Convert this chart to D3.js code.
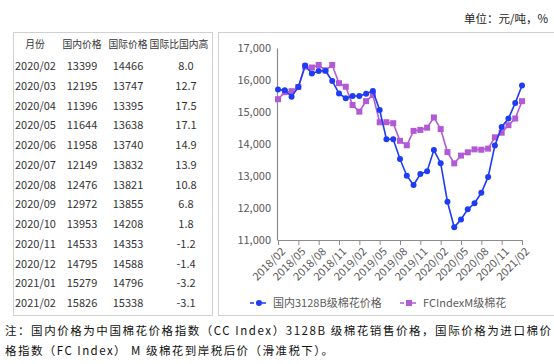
<!DOCTYPE html>
<html><head><meta charset="utf-8">
<script src="https://cdn.jsdelivr.net/npm/d3@7"></script>
<style>
html,body{margin:0;padding:0;background:#fff;}
svg{display:block;}
</style></head>
<body><svg id="c" width="554" height="364"></svg>
<script>
const months = ["2018/02","2018/03","2018/04","2018/05","2018/06","2018/07","2018/08","2018/09","2018/10","2018/11","2018/12","2019/01",
"2019/02","2019/03","2019/04","2019/05","2019/06","2019/07","2019/08","2019/09","2019/10","2019/11","2019/12","2020/01",
"2020/02","2020/03","2020/04","2020/05","2020/06","2020/07","2020/08","2020/09","2020/10","2020/11","2020/12","2021/01","2021/02"];
const domestic = [15700,15680,15480,15780,16450,16200,16280,16290,15970,15580,15430,15500,
15500,15570,15660,15060,14150,14150,13530,13010,12720,13060,13150,13810,
13399,12195,11396,11644,11958,12149,12476,12972,13953,14533,14795,15279,15826];
const international = [15400,15620,15650,15780,16420,16390,16470,16300,16470,15900,15790,15220,
15010,15340,15530,14680,14680,14650,14100,13960,14410,14440,14510,14830,
14466,13747,13395,13638,13740,13832,13821,13855,14208,14353,14588,14796,15338];
const yTicks = [11000,12000,13000,14000,15000,16000,17000];
const xTickLabels = ["2018/02","2018/05","2018/08","2018/11","2019/02","2019/05","2019/08","2019/11","2020/02","2020/05","2020/08","2020/11","2021/02"];
const tableHeader = ["月份","国内价格","国际价格","国际比国内高"];
const tableMonths = ["2020/02","2020/03","2020/04","2020/05","2020/06","2020/07","2020/08","2020/09","2020/10","2020/11","2020/12","2021/01","2021/02"];
const tableDomestic = [13399,12195,11396,11644,11958,12149,12476,12972,13953,14533,14795,15279,15826];
const tableIntl = [14466,13747,13395,13638,13740,13832,13821,13855,14208,14353,14588,14796,15338];
const tableRatio = ["8.0","12.7","17.5","17.1","14.9","13.9","10.8","6.8","1.8","-1.2","-1.4","-3.2","-3.1"];
const seriesNames = ["国内3128B级棉花价格","FCIndexM级棉花"];
const unitText = "单位：元/吨，%";
const note1 = "注：国内价格为中国棉花价格指数（CC Index）3128B 级棉花销售价格，国际价格为进口棉价";
const note2 = "格指数（FC Index） M 级棉花到岸税后价（滑准税下）。";

const svg = d3.select("#c");
const sans = "'Noto Sans CJK SC','Noto Sans',sans-serif";
const blue = "#1f3cf5", purple = "#b25ad6";

// unit
svg.append("text").attr("x",548).attr("y",23).attr("text-anchor","end")
  .attr("font-family",sans).attr("font-size",11.5).attr("fill","#222").text(unitText);

// panels
svg.append("rect").attr("x",13.5).attr("y",32.5).attr("width",199).attr("height",283)
  .attr("fill","none").attr("stroke","#d0d0d0");
svg.append("rect").attr("x",218.5).attr("y",32.5).attr("width",345).attr("height",283)
  .attr("fill","none").attr("stroke","#d0d0d0");

// table
const colX = [35,82,128,179];
const hdr = svg.append("g").attr("font-family",sans).attr("font-size",9.8).attr("fill","#333");
tableHeader.forEach((h,i)=>hdr.append("text").attr("x",colX[i]).attr("y",48).attr("text-anchor","middle").text(h));
const rowY = d3.scaleLinear().domain([0,12]).range([70,307]);
const tb = svg.append("g").attr("font-family",sans).attr("font-size",11).attr("fill","#333");
tableMonths.forEach((m,i)=>{
  const yy = rowY(i);
  tb.append("text").attr("x",15).attr("y",yy).text(m);
  tb.append("text").attr("x",82).attr("y",yy).attr("text-anchor","middle").text(tableDomestic[i]);
  tb.append("text").attr("x",128).attr("y",yy).attr("text-anchor","middle").text(tableIntl[i]);
  tb.append("text").attr("x",186).attr("y",yy).attr("text-anchor","middle").text(tableRatio[i]);
});

// chart
const x = d3.scaleLinear().domain([0, months.length-1]).range([278,522]);
const y = d3.scaleLinear().domain([11000,17000]).range([240,48]);

const yAxis = svg.append("g").attr("transform","translate(277,0)")
  .call(d3.axisLeft(y).tickValues(yTicks).tickSize(0).tickPadding(6).tickFormat(d3.format(",")));
yAxis.select(".domain").attr("stroke","#8c8c8c").attr("stroke-width",1.2);
yAxis.selectAll("text").attr("font-family",sans).attr("font-size",11).attr("fill","#595959");

const xIdx = xTickLabels.map(l=>months.indexOf(l));
const xAxis = svg.append("g").attr("transform","translate(0,240)")
  .call(d3.axisBottom(x).tickValues(xIdx).tickSize(5).tickSizeOuter(0).tickFormat(i=>months[i]));
xAxis.select(".domain").attr("stroke","#8c8c8c").attr("stroke-width",1.2);
xAxis.selectAll(".tick line").attr("stroke","#8c8c8c");
xAxis.selectAll("text").attr("font-family",sans).attr("font-size",11).attr("fill","#595959")
  .attr("text-anchor","end").attr("transform","rotate(-45)").attr("dx","-0.3em").attr("dy","0.55em");

const line = d3.line().x((d,i)=>x(i)).y(d=>y(d));
svg.append("path").datum(international).attr("d",line).attr("fill","none").attr("stroke",purple).attr("stroke-width",1.6);
svg.append("g").selectAll("rect").data(international).join("rect")
  .attr("x",(d,i)=>x(i)-3).attr("y",d=>y(d)-3).attr("width",6).attr("height",6).attr("fill",purple);
svg.append("path").datum(domestic).attr("d",line).attr("fill","none").attr("stroke",blue).attr("stroke-width",1.6);
svg.append("g").selectAll("circle").data(domestic).join("circle")
  .attr("cx",(d,i)=>x(i)).attr("cy",d=>y(d)).attr("r",3).attr("fill",blue);

// legend
const lg = svg.append("g").attr("font-family",sans).attr("font-size",11).attr("fill","#595959");
lg.append("line").attr("x1",250).attr("x2",268).attr("y1",303).attr("y2",303).attr("stroke",blue).attr("stroke-width",1.6).attr("stroke-dasharray","4,2");
lg.append("circle").attr("cx",259).attr("cy",303).attr("r",3).attr("fill",blue);
lg.append("text").attr("x",273).attr("y",307).text(seriesNames[0]);
lg.append("line").attr("x1",400).attr("x2",418).attr("y1",303).attr("y2",303).attr("stroke",purple).attr("stroke-width",1.6).attr("stroke-dasharray","4,2");
lg.append("rect").attr("x",406).attr("y",300).attr("width",6).attr("height",6).attr("fill",purple);
lg.append("text").attr("x",423).attr("y",307).text(seriesNames[1]);

// footnote
const serif = "'Noto Sans CJK SC','DejaVu Serif',serif";
svg.append("text").attr("x",5).attr("y",335).attr("font-family",serif).attr("font-size",11.5).attr("fill","#111")
  .attr("textLength",546).attr("lengthAdjust","spacing").text(note1);
svg.append("text").attr("x",5).attr("y",355).attr("font-family",serif).attr("font-size",11.5).attr("fill","#111")
  .attr("textLength",328).attr("lengthAdjust","spacing").text(note2);
</script></body></html>
